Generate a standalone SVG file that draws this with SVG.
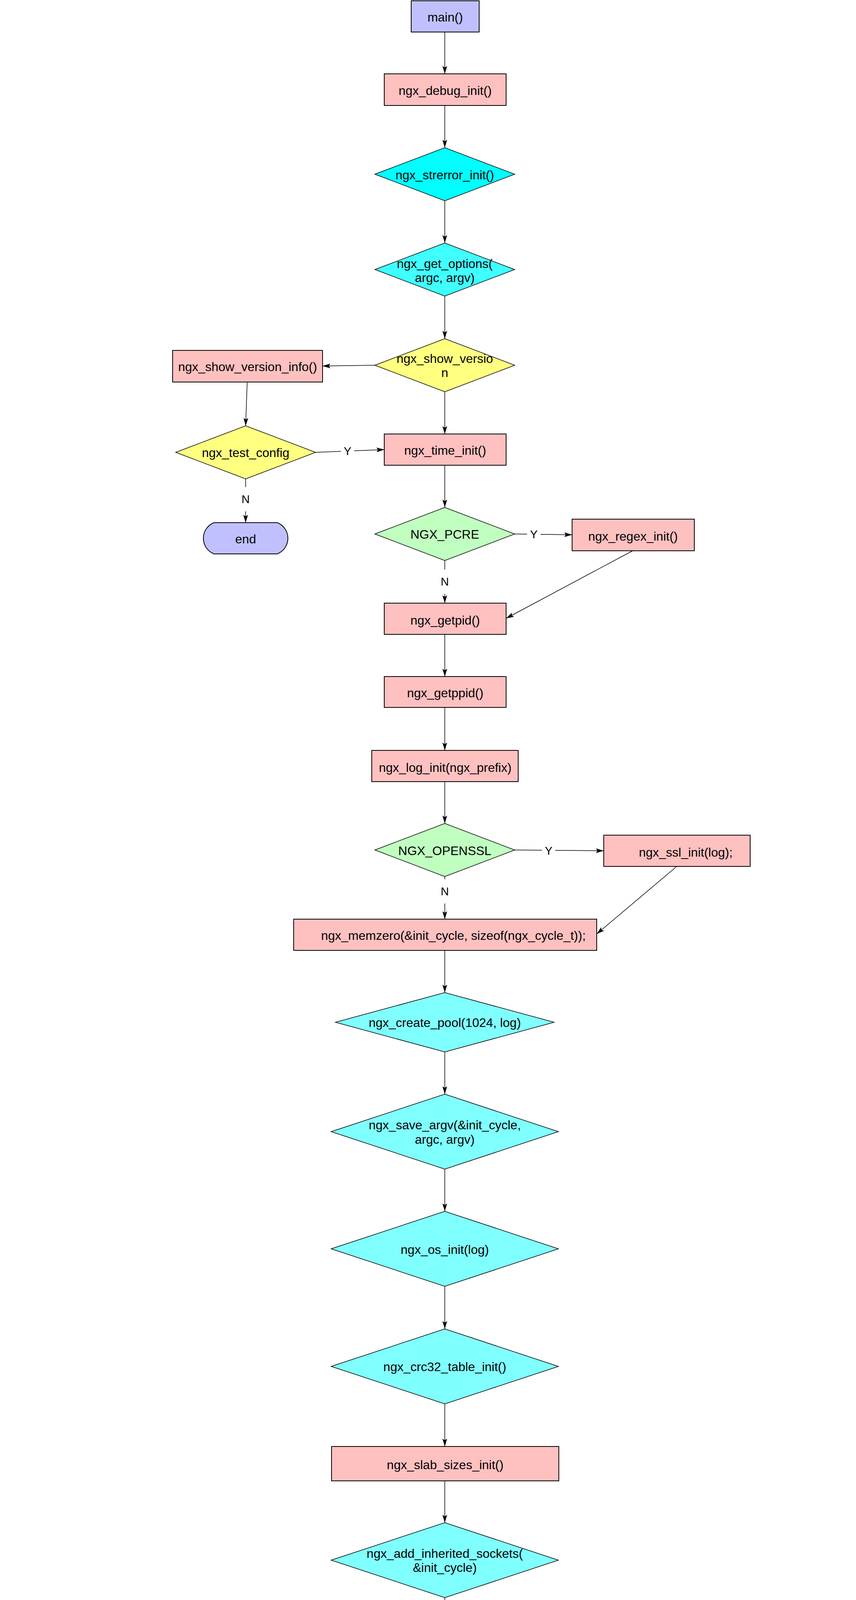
<svg xmlns="http://www.w3.org/2000/svg" width="2192" height="7004" viewBox="0 0 2192 7004">
<style>
text{font-family:"Liberation Sans",Arial,Helvetica,sans-serif;fill:#000}
.nt{font-size:32px;text-anchor:middle}
.box{fill:#FFC0C0;stroke:#000;stroke-width:2}
.term{fill:#C0C0FF;stroke:#000;stroke-width:2}
.dia{stroke:#000;stroke-width:1.5}
.cy{fill:#80FFFF}
.cy0{fill:#00FFFF}
.cy1{fill:#40FFFF}
.ye{fill:#FFFF80}
.gr{fill:#C0FFC0}
.edge{fill:none;stroke:#000;stroke-width:1.5;marker-end:url(#arr)}
.lb rect{fill:#fff}
.lb text{font-size:29px;text-anchor:middle}
</style>
<defs>
<marker id="arr" markerUnits="userSpaceOnUse" markerWidth="22" markerHeight="14" refX="20" refY="6" orient="auto">
<path d="M0,0 L20,6 L0,12 L4,6 Z" fill="#000"/>
</marker>
</defs>
<rect width="2192" height="7004" fill="#fff"/>
<g id="nodes">
<g id="main"><rect class="term" x="1053" y="2" width="174" height="80"/><text class="nt" x="1140" y="55">main()</text></g>
<g id="debug_init"><rect class="box" x="984" y="189" width="312" height="81"/><text class="nt" x="1140" y="243">ngx_debug_init()</text></g>
<g id="strerror_init"><polygon class="dia cy0" points="960,446 1139,378 1318,446 1139,514"/><text class="nt" x="1139" y="459">ngx_strerror_init()</text></g>
<g id="get_options"><polygon class="dia cy1" points="960,690 1139,622 1318,690 1139,758"/><text class="nt" x="1139" y="686">ngx_get_options(</text><text class="nt" x="1139" y="722">argc, argv)</text></g>
<g id="show_version"><polygon class="dia ye" points="960,935 1139,867 1318,935 1139,1003"/><text class="nt" x="1139" y="929">ngx_show_versio</text><text class="nt" x="1139" y="965">n</text></g>
<g id="show_version_info"><rect class="box" x="442" y="897" width="384" height="81"/><text class="nt" x="634" y="950">ngx_show_version_info()</text></g>
<g id="test_config1"><polygon class="dia ye" points="450,1158 629,1090 808,1158 629,1226"/><text class="nt" x="629" y="1170">ngx_test_config</text></g>
<g id="time_init"><rect class="box" x="984" y="1111" width="312" height="80"/><text class="nt" x="1140" y="1164">ngx_time_init()</text></g>
<g id="end1"><path class="term" d="M548,1338 H710 A43,43 0 0 1 710,1418 H548 A43,43 0 0 1 548,1338 Z"/><text class="nt" x="629" y="1391">end</text></g>
<g id="ngx_pcre"><polygon class="dia gr" points="960,1367 1139,1299 1318,1367 1139,1435"/><text class="nt" x="1139" y="1379">NGX_PCRE</text></g>
<g id="regex_init"><rect class="box" x="1465" y="1329" width="313" height="81"/><text class="nt" x="1621" y="1384">ngx_regex_init()</text></g>
<g id="getpid"><rect class="box" x="984" y="1544" width="312" height="80"/><text class="nt" x="1140" y="1599">ngx_getpid()</text></g>
<g id="getppid"><rect class="box" x="984" y="1732" width="312" height="79"/><text class="nt" x="1140" y="1785">ngx_getppid()</text></g>
<g id="log_init"><rect class="box" x="952" y="1921" width="375" height="80"/><text class="nt" x="1140" y="1976">ngx_log_init(ngx_prefix)</text></g>
<g id="ngx_openssl"><polygon class="dia gr" points="960,2176 1139,2108 1318,2176 1139,2244"/><text class="nt" x="1139" y="2189">NGX_OPENSSL</text></g>
<g id="ssl_init"><rect class="box" x="1546" y="2138" width="375" height="80"/><text class="nt" x="1756" y="2193">ngx_ssl_init(log);</text></g>
<g id="memzero"><rect class="box" x="752" y="2353" width="776" height="80"/><text class="nt" x="1161" y="2406">ngx_memzero(&amp;init_cycle, sizeof(ngx_cycle_t));</text></g>
<g id="create_pool"><polygon class="dia cy" points="859,2617 1139,2541 1419,2617 1139,2693"/><text class="nt" x="1139" y="2629">ngx_create_pool(1024, log)</text></g>
<g id="save_argv"><polygon class="dia cy" points="848,2897 1139,2801 1430,2897 1139,2993"/><text class="nt" x="1139" y="2891">ngx_save_argv(&amp;init_cycle,</text><text class="nt" x="1139" y="2928">argc, argv)</text></g>
<g id="os_init"><polygon class="dia cy" points="848,3197 1139,3101 1430,3197 1139,3293"/><text class="nt" x="1139" y="3210">ngx_os_init(log)</text></g>
<g id="crc32_table_init"><polygon class="dia cy" points="848,3498 1139,3402 1430,3498 1139,3594"/><text class="nt" x="1139" y="3510">ngx_crc32_table_init()</text></g>
<g id="slab_sizes_init"><rect class="box" x="849" y="3703" width="582" height="88"/><text class="nt" x="1140" y="3761">ngx_slab_sizes_init()</text></g>
<g id="add_inherited_sockets"><polygon class="dia cy" points="848,3994 1139,3898 1430,3994 1139,4090"/><text class="nt" x="1139" y="3988">ngx_add_inherited_sockets(</text><text class="nt" x="1139" y="4024">&amp;init_cycle)</text></g>
<g id="preinit_modules"><polygon class="dia cy" points="848,4295 1139,4199 1430,4295 1139,4391"/><text class="nt" x="1139" y="4305">ngx_preinit_modules()</text></g>
<g id="init_cycle"><polygon class="dia cy" points="848,4595 1139,4499 1430,4595 1139,4691"/><text class="nt" x="1139" y="4608">ngx_init_cycle(&amp;init_cycle)</text></g>
<g id="test_config2"><polygon class="dia ye" points="308,4598 487,4530 666,4598 487,4666"/><text class="nt" x="487" y="4611">ngx_test_config</text></g>
<g id="log_stderr_failed"><rect class="box" x="193" y="4730" width="584" height="88"/><text class="nt" x="485" y="4770">ngx_log_stderr(0, "configuration file %s</text><text class="nt" x="485" y="4806">test failed",init_cycle.conf_file.data);</text></g>
<g id="end2"><path class="term" d="M404,4881 H566 A43,43 0 0 1 566,4962 H404 A43,43 0 0 1 404,4881 Z"/><text class="nt" x="485" y="4934">end</text></g>
<g id="test_config3"><polygon class="dia ye" points="960,4867 1139,4799 1318,4867 1139,4935"/><text class="nt" x="1139" y="4880">ngx_test_config</text></g>
<g id="quiet_mode"><polygon class="dia ye" points="1618,4878 1798,4810 1978,4878 1798,4946"/><text class="nt" x="1798" y="4889">ngx_quiet_mode</text></g>
<g id="log_stderr_ok"><rect class="box" x="1506" y="5015" width="584" height="88"/><text class="nt" x="1798" y="5036">ngx_log_stderr(0, "configuration file %s</text><text class="nt" x="1798" y="5072">test is successful",cycle-</text><text class="nt" x="1798" y="5108">&gt;conf_file.data)</text></g>
<g id="dump_config"><polygon class="dia ye" points="1618,5240 1797,5173 1976,5240 1797,5307"/><text class="nt" x="1797" y="5234">ngx_dump_confi</text><text class="nt" x="1797" y="5274">g</text></g>
<g id="print_conf"><rect class="box" x="1506" y="5385" width="583" height="89"/><text class="nt" x="1798" y="5443">print conf files</text></g>
<g id="end5"><path class="term" d="M1717,5545 H1879 A43,43 0 0 1 1879,5626 H1717 A43,43 0 0 1 1717,5545 Z"/><text class="nt" x="1798" y="5599">end</text></g>
<g id="signal1"><polygon class="dia ye" points="960,5112 1139,5044 1318,5112 1139,5180"/><text class="nt" x="1139" y="5125">ngx_signal</text></g>
<g id="signal_process"><rect class="box" x="193" y="5074" width="584" height="88"/><text class="nt" x="485" y="5131">ngx_signal_process(cycle, ngx_signal)</text></g>
<g id="end4"><path class="term" d="M404,5225 H566 A43,43 0 0 1 566,5306 H404 A43,43 0 0 1 404,5225 Z"/><text class="nt" x="485" y="5278">end</text></g>
<g id="os_status"><rect class="box" x="849" y="5287" width="582" height="89"/><text class="nt" x="1162" y="5347">ngx_os_status(cycle-&gt;log)</text></g>
<g id="get_conf"><rect class="box" x="849" y="5484" width="582" height="89"/><text class="nt" x="1140" y="5524">ngx_get_conf(cycle-&gt;conf_ctx,</text><text class="nt" x="1140" y="5560">ngx_core_module)</text></g>
<g id="ngx_win32"><polygon class="dia gr" points="960,5748 1139,5680 1318,5748 1139,5816"/><text class="nt" x="1139" y="5759">NGX_WIN32</text></g>
<g id="init_signals"><polygon class="dia cy" points="194,5746 485,5650 776,5746 485,5842"/><text class="nt" x="485" y="5758">ngx_init_signals(cycle-&gt;log)</text></g>
<g id="inherited_daemon"><polygon class="dia cy" points="194,6010 485,5914 776,6010 485,6106"/><text class="nt" x="485" y="6004">!ngx_inherited &amp;&amp; ccf-</text><text class="nt" x="485" y="6040">&gt;daemon</text></g>
<g id="daemon"><polygon class="dia cy" points="194,6274 485,6178 776,6274 485,6370"/><text class="nt" x="485" y="6285">ngx_daemon(cycle-&gt;log)</text></g>
<g id="end6"><path class="term" d="M404,6441 H566 A43,43 0 0 1 566,6522 H404 A43,43 0 0 1 404,6441 Z"/><text class="nt" x="485" y="6494">end</text></g>
<g id="create_pidfile"><polygon class="dia cy" points="848,6021 1139,5925 1430,6021 1139,6117"/><text class="nt" x="1139" y="6015">ngx_create_pidfile(&amp;ccf-&gt;pid,</text><text class="nt" x="1139" y="6051">cycle-&gt;log)</text></g>
<g id="log_redirect_stderr"><polygon class="dia cy" points="848,6321 1139,6225 1430,6321 1139,6417"/><text class="nt" x="1139" y="6315">ngx_log_redirect_stderr(cycl</text><text class="nt" x="1139" y="6353">e)</text></g>
<g id="signal2"><polygon class="dia ye" points="960,6593 1139,6525 1318,6593 1139,6661"/><text class="nt" x="1139" y="6605">ngx_signal</text></g>
<g id="single_process_cycle"><rect class="box" x="521" y="6737" width="585" height="89"/><text class="nt" x="854" y="6796">ngx_single_process_cycle(cycle);</text></g>
<g id="master_process_cycle"><rect class="box" x="1193" y="6737" width="585" height="89"/><text class="nt" x="1522" y="6796">ngx_master_process_cycle(cycle);</text></g>
<g id="end7"><path class="term" d="M1053,6922 H1214 A43,43 0 0 1 1214,7002 H1053 A43,43 0 0 1 1053,6922 Z"/><text class="nt" x="1134" y="6975">end</text></g>
</g>
<g id="connectors">
<path class="edge" d="M1139,82 V189"/>
<path class="edge" d="M1139,270 V378"/>
<path class="edge" d="M1139,514 V622"/>
<path class="edge" d="M1139,758 V867"/>
<path class="edge" d="M960,935 L826,937"/>
<path class="edge" d="M1139,1003 V1111"/>
<path class="edge" d="M633,978 L629,1090"/>
<path class="edge" d="M808,1158 L984,1151"/>
<path class="edge" d="M629,1226 V1338"/>
<path class="edge" d="M1139,1191 V1299"/>
<path class="edge" d="M1318,1367 L1465,1369"/>
<path class="edge" d="M1139,1435 V1544"/>
<path class="edge" d="M1620,1410 L1296,1583"/>
<path class="edge" d="M1139,1624 V1732"/>
<path class="edge" d="M1139,1811 V1921"/>
<path class="edge" d="M1139,2001 V2108"/>
<path class="edge" d="M1318,2176 L1546,2178"/>
<path class="edge" d="M1139,2244 V2353"/>
<path class="edge" d="M1733,2218 L1528,2391"/>
<path class="edge" d="M1139,2433 V2541"/>
<path class="edge" d="M1139,2693 V2801"/>
<path class="edge" d="M1139,2993 V3101"/>
<path class="edge" d="M1139,3293 V3402"/>
<path class="edge" d="M1139,3594 V3703"/>
<path class="edge" d="M1139,3791 V3898"/>
<path class="edge" d="M1139,4090 V4199"/>
<path class="edge" d="M1139,4391 V4499"/>
<path class="edge" d="M848,4595 L666,4597"/>
<path class="edge" d="M487,4666 V4730"/>
<path class="edge" d="M308,4598 L81,4602 V4922 H377"/>
<path class="edge" d="M485,4818 V4881"/>
<path class="edge" d="M1139,4691 V4799"/>
<path class="edge" d="M1318,4867 L1618,4878"/>
<path class="edge" d="M1798,4946 V5015"/>
<path class="edge" d="M1978,4878 L2170,4882 V5241 L1976,5240"/>
<path class="edge" d="M1798,5103 V5173"/>
<path class="edge" d="M1797,5307 V5385"/>
<path class="edge" d="M1976,5240 L2170,5241 V5586 H1906"/>
<path class="edge" d="M1798,5474 V5545"/>
<path class="edge" d="M1139,4935 V5044"/>
<path class="edge" d="M960,5112 L777,5117"/>
<path class="edge" d="M485,5162 V5225"/>
<path class="edge" d="M1139,5180 V5287"/>
<path class="edge" d="M1139,5376 V5484"/>
<path class="edge" d="M1139,5573 V5680"/>
<path class="edge" d="M960,5748 L776,5746"/>
<path class="edge" d="M485,5842 V5914"/>
<path class="edge" d="M485,6106 V6178"/>
<path class="edge" d="M485,6370 V6441"/>
<path class="edge" d="M194,5746 H66 L59,6482 H377"/>
<path class="edge" d="M1139,5816 V5925"/>
<path class="edge" d="M1139,6117 V6225"/>
<path class="edge" d="M1139,6417 V6525"/>
<path class="edge" d="M1139,6661 L944,6737"/>
<path class="edge" d="M1139,6661 L1349,6737"/>
<path class="edge" d="M867,6826 L1026,6960"/>
<path class="edge" d="M1426,6826 L1241,6960"/>
<g class="lb">
<rect x="873" y="1137" width="34" height="36"/><text x="890" y="1165">Y</text>
<rect x="615" y="1247" width="28" height="62"/><text x="629" y="1288">N</text>
<rect x="1350" y="1350" width="34" height="36"/><text x="1367" y="1378">Y</text>
<rect x="1125" y="1458" width="28" height="62"/><text x="1139" y="1499">N</text>
<rect x="1388" y="2160" width="34" height="36"/><text x="1405" y="2188">Y</text>
<rect x="1125" y="2251" width="28" height="62"/><text x="1139" y="2292">N</text>
<rect x="724" y="4580" width="62" height="36"/><text x="755" y="4608">null</text>
<rect x="1441" y="4855" width="34" height="36"/><text x="1458" y="4883">Y</text>
<rect x="1784" y="4939" width="28" height="62"/><text x="1798" y="4980">N</text>
<rect x="2156" y="5021" width="28" height="60"/><text x="2170" y="5061">Y</text>
<rect x="1783" y="5304" width="28" height="62"/><text x="1797" y="5345">Y</text>
<rect x="2156" y="5364" width="28" height="62"/><text x="2170" y="5405">N</text>
<rect x="851" y="5099" width="34" height="36"/><text x="868" y="5127">Y</text>
<rect x="1125" y="5192" width="28" height="62"/><text x="1139" y="5233">N</text>
<rect x="10" y="5953" width="106" height="62"/><text x="63" y="5995">FAILED</text>
<rect x="1125" y="5845" width="28" height="62"/><text x="1139" y="5886">Y</text>
<rect x="432" y="6364" width="106" height="62"/><text x="485" y="6405">FAILED</text>
</g>
</g>
</svg>
